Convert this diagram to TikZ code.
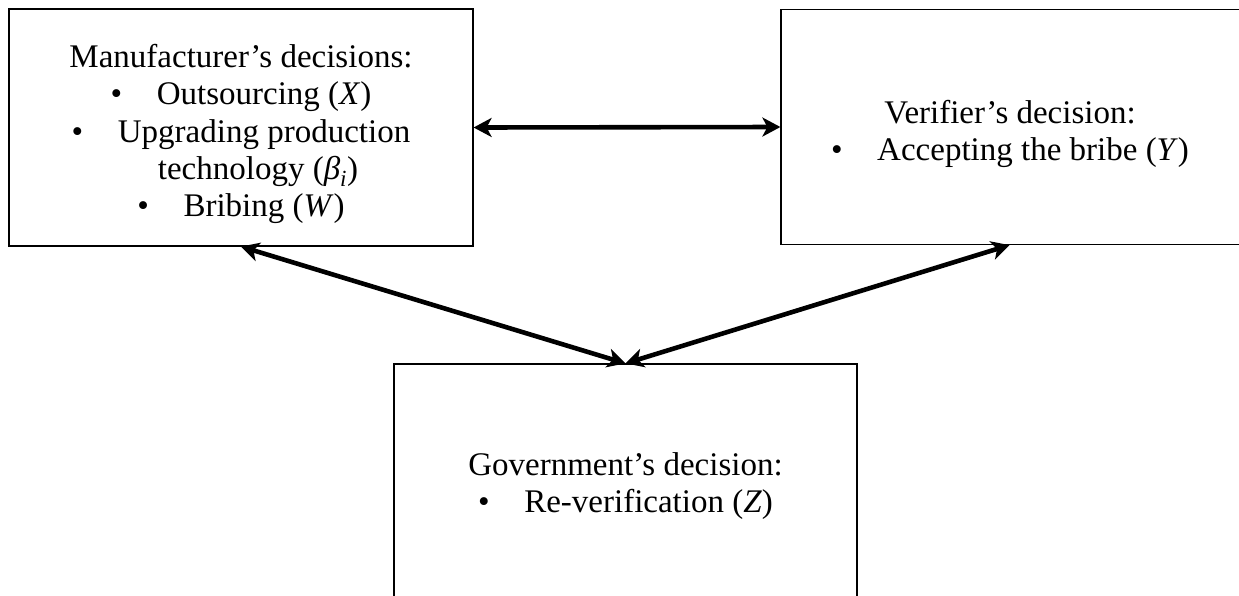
\documentclass[tikz,border=0pt]{standalone}
\usepackage{fontspec}
\setmainfont{Liberation Serif}
\usetikzlibrary{arrows.meta}

\newcommand{\bul}{\textbullet\hspace{1.05em}}

\tikzset{
  decision/.style={draw=black, line width=1.2pt, rectangle, inner sep=0pt},
  decisiontext/.style={align=center, inner sep=0pt,
    font=\fontsize{33}{37.3}\selectfont},
  tip/.tip={Stealth[length=18pt,width=19pt,inset=5pt]},
  link/.style={line width=4.6pt, tip-tip}
}

\begin{document}
\begin{tikzpicture}[x=1pt,y=-1pt]
  \useasboundingbox (0,0) rectangle (1239,595);
  \clip (0,0) rectangle (1239,595);

  % manufacturer
  \node[decision, minimum width=464pt, minimum height=237pt] (man) at (241,127.5) {};
  \node[decisiontext] (mantext) at (241,134)
    {Manufacturer's decisions:\\
     \bul Outsourcing (\textit{X})\\
     \bul Upgrading production\\
     \hspace*{34pt}technology (\textit{β}\textsubscript{\textit{i}})\\
     \bul Bribing (\textit{W})};

  % verifier (runs off the right side)
  \node[decision, minimum width=461pt, minimum height=235pt] (ver) at (1011.5,127) {};
  \node[decisiontext] (vertext) at (1010,134)
    {Verifier's decision:\\
     \bul Accepting the bribe (\textit{Y})};

  % government (runs off the bottom)
  \node[decision, minimum width=463pt, minimum height=242pt] (gov) at (625.5,485) {};
  \node[decisiontext] (govtext) at (625.5,486)
    {Government's decision:\\
     \bul Re-verification (\textit{Z})};

  % interactions
  \draw[link] (man.east) -- (ver.west);
  \draw[link] (man.south) -- (gov.north);
  \draw[link] ([xshift=-2pt]ver.south) -- (gov.north);
\end{tikzpicture}
\end{document}
